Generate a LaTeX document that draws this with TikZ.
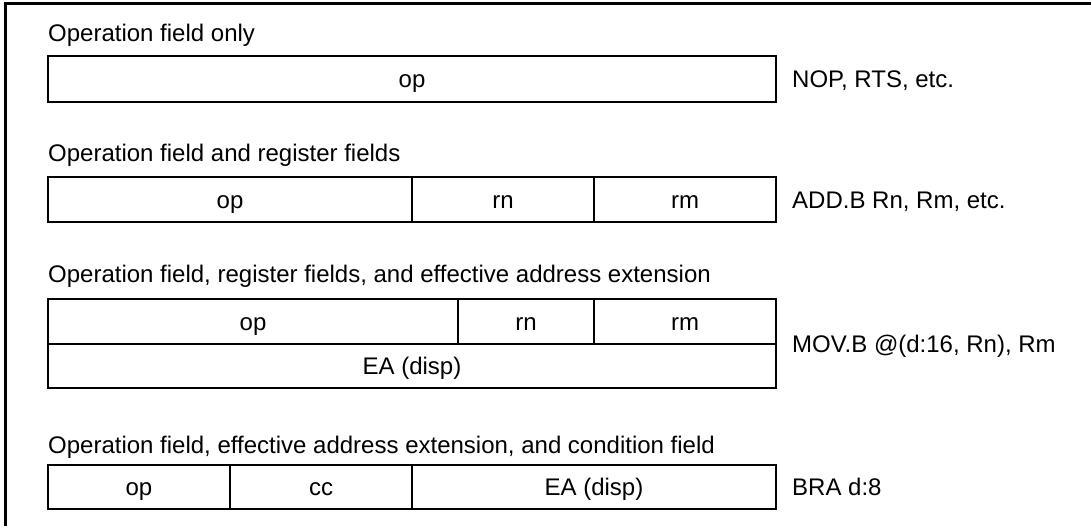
\documentclass[tikz,border=0pt]{standalone}
\usepackage{fontspec}
\setmainfont{Liberation Sans}
\usetikzlibrary{positioning}

\begin{document}
\begin{tikzpicture}[x=1pt,y=1pt,
    every node/.style={font=\fontsize{24}{28}\selectfont},
    field/.style={draw,line width=1.5pt,minimum height=45pt,inner sep=0pt,outer sep=0pt,
      text height=17.2pt,text depth=0pt},
    caption/.style={anchor=base west,inner sep=0pt},
    note/.style={inner sep=0pt,text height=17.2pt,text depth=0pt}]
  \useasboundingbox (0,0) rectangle (1091,525);
  \draw[line width=3pt] (5.3,-20) -- (5.3,521) -- (1110,521);

  % operation field only
  \node[caption] (capA) at (48,483) {Operation field only};
  \node[field,minimum width=728pt,minimum height=46pt,anchor=west] (opA) at (48,446) {op};
  \node[note,right=16pt of opA] (nopA) {NOP, RTS, etc.};

  % operation field and register fields
  \node[caption] (capB) at (48,363) {Operation field and register fields};
  \node[field,minimum width=364pt,anchor=west] (opB) at (48,325.5) {op};
  \node[field,minimum width=182pt,right=0pt of opB] (rnB) {rn};
  \node[field,minimum width=182pt,right=0pt of rnB] (rmB) {rm};
  \node[note,right=16pt of rmB] (addB) {ADD.B Rn, Rm, etc.};

  % register fields + EA extension
  \node[caption] (capC) at (48,242) {Operation field, register fields, and effective address extension};
  \node[field,minimum width=410pt,anchor=west] (opC) at (48,203.5) {op};
  \node[field,minimum width=136pt,right=0pt of opC] (rnC) {rn};
  \node[field,minimum width=182pt,right=0pt of rnC] (rmC) {rm};
  \node[field,minimum width=728pt,minimum height=44pt,anchor=north west] (eaC) at (opC.south west) {EA (disp)};
  \node[note,right=16pt of rmC.south east] (movC) {MOV.B @(d:16, Rn), Rm};

  % EA extension + condition field
  \node[caption] (capD) at (48,72) {Operation field, effective address extension, and condition field};
  \node[field,minimum width=182pt,minimum height=44pt,anchor=west] (opD) at (48,38) {op};
  \node[field,minimum width=182pt,minimum height=44pt,right=0pt of opD] (ccD) {cc};
  \node[field,minimum width=364pt,minimum height=44pt,right=0pt of ccD] (eaD) {EA (disp)};
  \node[note,right=16pt of eaD] (braD) {BRA d:8};
\end{tikzpicture}
\end{document}
